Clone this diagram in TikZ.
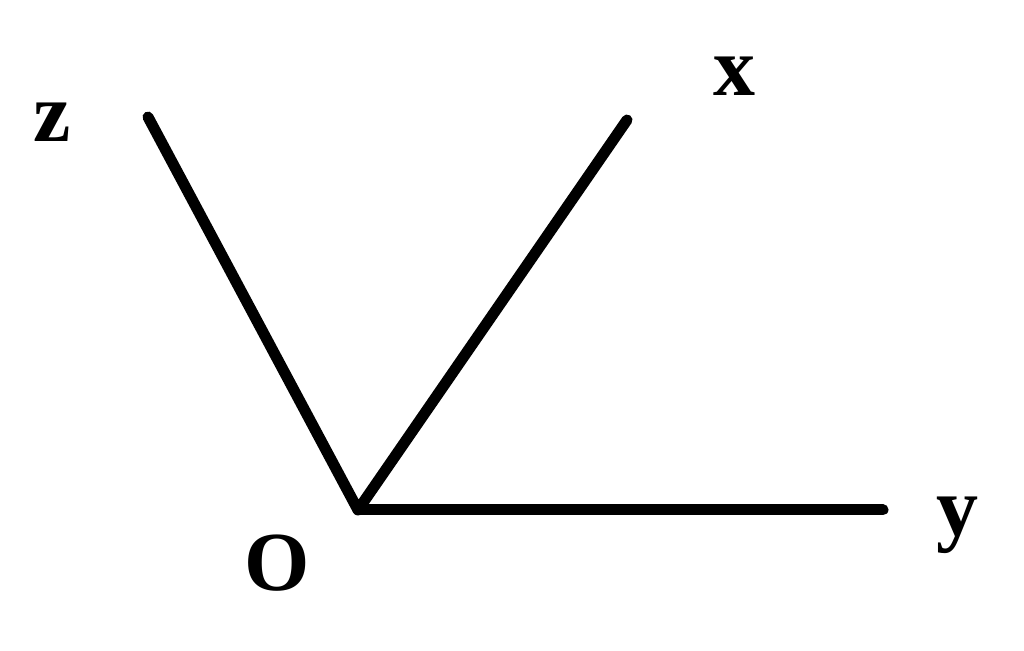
\documentclass[tikz,border=0pt]{standalone}
\usepackage{fontspec}
\setmainfont{Liberation Serif}[BoldFont={Liberation Serif Bold}]
\begin{document}
\begin{tikzpicture}[x=0.5pt,y=-0.5pt,
  axis/.style={line width=5.5pt,line cap=round,line join=round},
  lbl/.style={font=\fontsize{42}{48}\selectfont\bfseries,inner sep=0pt}]
\useasboundingbox (0,0) rectangle (1024,651);
\coordinate (O) at (358,510);
\coordinate (Z) at (148,117);
\coordinate (X) at (627,120);
\coordinate (Y) at (883,510);
\draw[axis] (Z) -- (O) -- (X);
\draw[axis] (O) -- (Y);
\node[lbl] (lz) at (52,122) {z};
\node[lbl] (lx) at (734,76) {x};
\node[lbl] (ly) at (957,525) {y};
\node[lbl] (lo) at (277,563.5) {O};
\end{tikzpicture}
\end{document}
